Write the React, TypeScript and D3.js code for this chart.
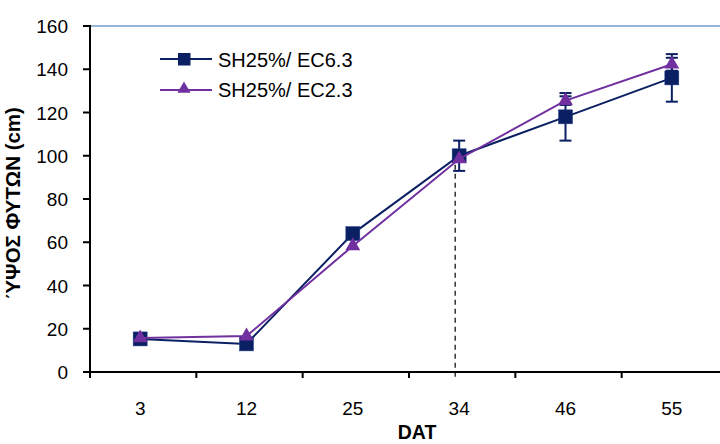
import React from "react";
import * as d3 from "d3";

const categories = ["3", "12", "25", "34", "46", "55"];
const seriesEC63 = [15.3, 13, 64, 100, 118, 136];
const errEC63 = [0, 0, 0, 7, 11, 11];
const seriesEC23 = [15.7, 16.6, 58.3, 98.5, 125.5, 142.3];
const errEC23 = [0, 0, 0, 0, 2, 3];
const yTicks = [0, 20, 40, 60, 80, 100, 120, 140, 160];
const legendLabels = ["SH25%/ EC6.3", "SH25%/ EC2.3"];
const dashedAt = "34";

const W = 720, H = 444;
const left = 90, right = 728, top = 26, bottom = 372;
const NAVY = "#0B1F63";
const PURPLE = "#7030A0";
const FONT = "Liberation Sans, Arial, sans-serif";

export default function App() {
  const x = d3.scaleBand().domain(categories).range([left, right]).padding(0);
  const y = d3.scaleLinear().domain([0, 160]).range([bottom, top]);
  const cx = (c: string) => (x(c) as number) + x.bandwidth() / 2 - 3;
  const line = d3.line<number>().x((_, i) => cx(categories[i])).y((d) => y(d));
  const tri = d3.symbol().type(d3.symbolTriangle).size(95);

  const errBars = (vals: number[], errs: number[], color: string) =>
    vals.map((v, i) =>
      errs[i] > 0 ? (
        <g key={i} stroke={color} strokeWidth={2}>
          <line x1={cx(categories[i])} x2={cx(categories[i])} y1={y(v + errs[i])} y2={y(v - errs[i])} />
          <line x1={cx(categories[i]) - 6} x2={cx(categories[i]) + 6} y1={y(v + errs[i])} y2={y(v + errs[i])} />
          <line x1={cx(categories[i]) - 6} x2={cx(categories[i]) + 6} y1={y(v - errs[i])} y2={y(v - errs[i])} />
        </g>
      ) : null
    );

  const di = categories.indexOf(dashedAt);
  const dashX = cx(dashedAt) - 4;

  return (
    <svg width={W} height={H} style={{ position: "absolute", left: 0, top: 0, background: "#fff" }} fontFamily={FONT}>
      <rect width={W} height={H} fill="#fff" />
      <line x1={left} x2={W} y1={top} y2={top} stroke="#95B3D7" strokeWidth={2} />
      <line x1={dashX} x2={dashX} y1={y(seriesEC63[di])} y2={bottom + 8} stroke="#000" strokeWidth={1.2} strokeDasharray="5,4" />
      <line x1={left} x2={left} y1={top - 1} y2={bottom + 1} stroke="#000" strokeWidth={2} />
      <line x1={left - 1} x2={W} y1={bottom} y2={bottom} stroke="#000" strokeWidth={2} />
      {yTicks.map((t) => (
        <g key={t}>
          <line x1={left - 7} x2={left} y1={y(t)} y2={y(t)} stroke="#000" strokeWidth={2} />
          <text x={left - 22} y={y(t) + 7} fontSize={19} textAnchor="end" fill="#000">{t}</text>
        </g>
      ))}
      {categories.map((c) => (
        <g key={c}>
          <line x1={x(c) as number} x2={x(c) as number} y1={bottom} y2={bottom + 6} stroke="#000" strokeWidth={2} />
          <text x={cx(c)} y={bottom + 43} fontSize={19} textAnchor="middle" fill="#000">{c}</text>
        </g>
      ))}
      <text x={417} y={439} fontSize={19.5} fontWeight="bold" textAnchor="middle">DAT</text>
      <text transform={`translate(20,203) rotate(-90)`} fontSize={20.5} fontWeight="bold" textAnchor="middle">ΎΨΟΣ ΦΥΤΩΝ (cm)</text>

      {errBars(seriesEC63, errEC63, NAVY)}
      <path d={line(seriesEC63) as string} fill="none" stroke={NAVY} strokeWidth={2} />
      {seriesEC63.map((v, i) => (
        <rect key={i} x={cx(categories[i]) - 7} y={y(v) - 7} width={14} height={14} fill={NAVY} stroke="#1F3C88" strokeWidth={0.5} />
      ))}
      {errBars(seriesEC23, errEC23, NAVY)}
      <path d={line(seriesEC23) as string} fill="none" stroke={PURPLE} strokeWidth={2} />
      {seriesEC23.map((v, i) => (
        <path key={i} d={tri() as string} transform={`translate(${cx(categories[i])},${y(v)})`} fill={PURPLE} />
      ))}

      <g>
        <line x1={160} x2={212} y1={59} y2={59} stroke={NAVY} strokeWidth={2} />
        <rect x={178} y={53} width={12.5} height={12.5} fill={NAVY} />
        <text x={218} y={67} fontSize={20}>{legendLabels[0]}</text>
        <line x1={160} x2={212} y1={90} y2={90} stroke={PURPLE} strokeWidth={2} />
        <path d={d3.symbol().type(d3.symbolTriangle).size(75)() as string} transform="translate(184,89)" fill={PURPLE} />
        <text x={218} y={97} fontSize={20}>{legendLabels[1]}</text>
      </g>
    </svg>
  );
}
